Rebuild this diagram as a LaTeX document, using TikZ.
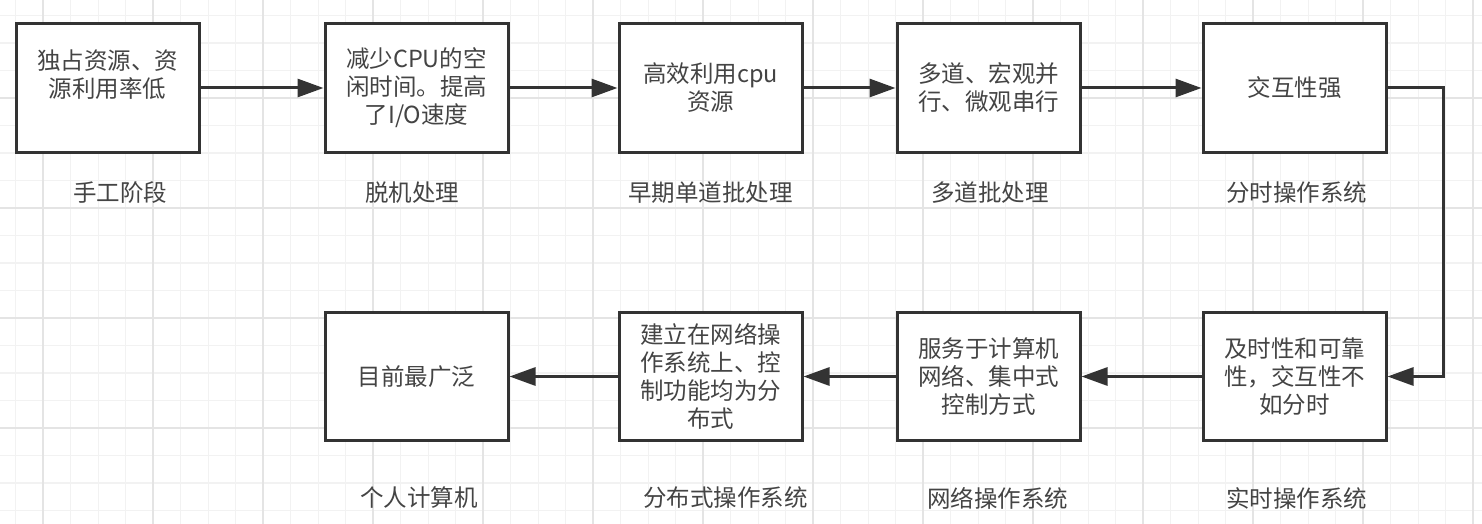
\documentclass[tikz,border=0pt]{standalone}
\usepackage{fontspec}
\setmainfont{Noto Sans CJK SC}
\usepackage{xcolor}
\usepackage{tikz}
\usetikzlibrary{arrows.meta}
\definecolor{inkgray}{HTML}{333333}
\definecolor{textgray}{HTML}{444444}
\definecolor{gridminor}{HTML}{F2F2F2}
\definecolor{gridmajor}{HTML}{E4E4E4}
\newcommand{\stagefont}{\fontsize{23.5}{28}\selectfont}

\begin{document}
\begin{tikzpicture}[x=1pt, y=-1pt,
    stage/.style={draw=inkgray, line width=3pt, fill=white, minimum width=183pt,
      minimum height=128pt, inner sep=0pt, align=center, font=\stagefont, text=textgray},
    caption/.style={font=\stagefont, text=textgray},
    flow/.style={draw=inkgray, line width=3pt, -{Triangle[length=26pt,width=18pt]}}]
        \useasboundingbox (0,0) rectangle (1482,524);
        \fill[white] (0,0) rectangle (1482,524);
        \foreach \gx in {0,...,53}
          \draw[gridminor, line width=1.3pt] (15.8+27.5*\gx, 0) -- ++(0,524);
        \foreach \gy in {0,...,18}
          \draw[gridminor, line width=1.3pt] (0, 15.5+27.5*\gy) -- ++(1482,0);
        \foreach \gx in {0,...,13}
          \draw[gridmajor, line width=1.5pt] (43+110*\gx, 0) -- ++(0,524);
        \foreach \gy in {0,...,3}
          \draw[gridmajor, line width=1.5pt] (0, 98+110*\gy) -- ++(1482,0);

        \foreach \name/\cx/\capx/\txt/\cap in
            {manual/107.5/120/{独占资源、资\\源利用率低\\\mbox{}}/{手工阶段},
             offline/416.5/412/{减少CPU的空\\闲时间。提高\\了I/O速度}/{脱机处理},
             single/710.5/710.5/{高效利用cpu\\资源}/{早期单道批处理},
             multi/988.5/990/{多道、宏观并\\行、微观串行}/{多道批处理},
             timeshare/1294.5/1296.5/{交互性强}/{分时操作系统}} {
          \node[stage] (\name) at (\cx, 88) {\txt};
          \node[caption] (\name-cap) at (\capx, 193) {\cap};
        }
        \foreach \name/\cx/\capx/\txt/\cap in
            {realtime/1294.5/1296.5/{及时性和可靠\\性，交互性不\\如分时}/{实时操作系统},
             network/988.5/997.5/{服务于计算机\\网络、集中式\\控制方式}/{网络操作系统},
             distrib/710.5/725.5/{建立在网络操\\作系统上、控\\制功能均为分\\布式}/{分布式操作系统},
             pc/416.5/419/{目前最广泛}/{个人计算机}} {
          \node[stage] (\name) at (\cx, 376.5) {\txt};
          \node[caption] (\name-cap) at (\capx, 498) {\cap};
        }

        \foreach \from/\to in {manual/offline, offline/single, single/multi, multi/timeshare,
            realtime/network, network/distrib, distrib/pc}
          \draw[flow] (\from) -- (\to);
        \draw[flow] (timeshare.east) -- ++(56,0) |- (realtime.east);
      \end{tikzpicture}
\end{document}
